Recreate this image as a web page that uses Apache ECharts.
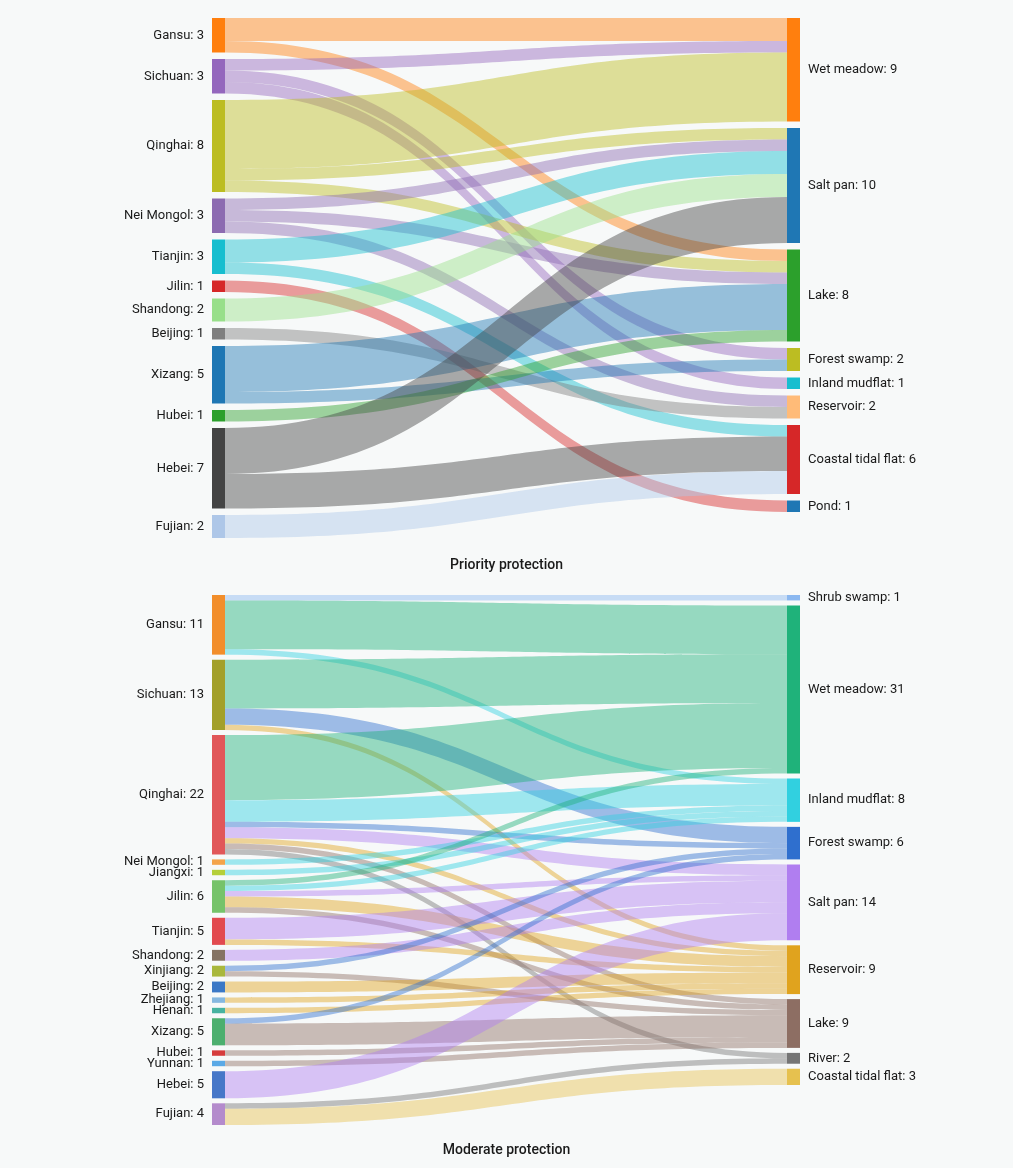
<!DOCTYPE html>
<html>
<head>
<meta charset="utf-8">
<script src="https://cdn.jsdelivr.net/npm/echarts@6/dist/echarts.min.js"></script>
<style>
  html, body { margin: 0; padding: 0; background: #f7f9f9; }
  #main { width: 1013px; height: 1168px; }
</style>
</head>
<body>
<div id="main"></div>
<script>
// priority protection
var priorityProvinces = ['Gansu', 'Sichuan', 'Qinghai', 'Nei Mongol', 'Tianjin', 'Jilin', 'Shandong', 'Beijing', 'Xizang', 'Hubei', 'Hebei', 'Fujian'];
var priorityProvinceCounts = [3, 3, 8, 3, 3, 1, 2, 1, 5, 1, 7, 2];
var priorityTypes = ['Wet meadow', 'Salt pan', 'Lake', 'Forest swamp', 'Inland mudflat', 'Reservoir', 'Coastal tidal flat', 'Pond'];
var priorityTypeCounts = [9, 10, 8, 2, 1, 2, 6, 1];
var priorityFlows = [
    ['Gansu', 'Wet meadow', 2], ['Gansu', 'Lake', 1],
    ['Sichuan', 'Wet meadow', 1], ['Sichuan', 'Forest swamp', 1], ['Sichuan', 'Inland mudflat', 1],
    ['Qinghai', 'Wet meadow', 6], ['Qinghai', 'Salt pan', 1], ['Qinghai', 'Lake', 1],
    ['Nei Mongol', 'Salt pan', 1], ['Nei Mongol', 'Lake', 1], ['Nei Mongol', 'Reservoir', 1],
    ['Tianjin', 'Salt pan', 2], ['Tianjin', 'Coastal tidal flat', 1],
    ['Jilin', 'Pond', 1],
    ['Shandong', 'Salt pan', 2],
    ['Beijing', 'Reservoir', 1],
    ['Xizang', 'Lake', 4], ['Xizang', 'Forest swamp', 1],
    ['Hubei', 'Lake', 1],
    ['Hebei', 'Salt pan', 4], ['Hebei', 'Coastal tidal flat', 3],
    ['Fujian', 'Coastal tidal flat', 2]
];

// moderate protection
var moderateProvinces = ['Gansu', 'Sichuan', 'Qinghai', 'Nei Mongol', 'Jiangxi', 'Jilin', 'Tianjin', 'Shandong', 'Xinjiang', 'Beijing', 'Zhejiang', 'Henan', 'Xizang', 'Hubei', 'Yunnan', 'Hebei', 'Fujian'];
var moderateProvinceCounts = [11, 13, 22, 1, 1, 6, 5, 2, 2, 2, 1, 1, 5, 1, 1, 5, 4];
var moderateTypes = ['Shrub swamp', 'Wet meadow', 'Inland mudflat', 'Forest swamp', 'Salt pan', 'Reservoir', 'Lake', 'River', 'Coastal tidal flat'];
var moderateTypeCounts = [1, 31, 8, 6, 14, 9, 9, 2, 3];
var moderateFlows = [
    ['Gansu', 'Shrub swamp', 1], ['Gansu', 'Wet meadow', 9], ['Gansu', 'Inland mudflat', 1],
    ['Sichuan', 'Wet meadow', 9], ['Sichuan', 'Forest swamp', 3], ['Sichuan', 'Reservoir', 1],
    ['Qinghai', 'Wet meadow', 12], ['Qinghai', 'Inland mudflat', 4], ['Qinghai', 'Forest swamp', 1],
    ['Qinghai', 'Salt pan', 2], ['Qinghai', 'Reservoir', 1], ['Qinghai', 'Lake', 1], ['Qinghai', 'River', 1],
    ['Nei Mongol', 'Inland mudflat', 1],
    ['Jiangxi', 'Inland mudflat', 1],
    ['Jilin', 'Wet meadow', 1], ['Jilin', 'Inland mudflat', 1], ['Jilin', 'Salt pan', 1], ['Jilin', 'Reservoir', 2], ['Jilin', 'Lake', 1],
    ['Tianjin', 'Salt pan', 4], ['Tianjin', 'Reservoir', 1],
    ['Shandong', 'Salt pan', 2],
    ['Xinjiang', 'Forest swamp', 1], ['Xinjiang', 'Lake', 1],
    ['Beijing', 'Reservoir', 2],
    ['Zhejiang', 'Reservoir', 1],
    ['Henan', 'Reservoir', 1],
    ['Xizang', 'Forest swamp', 1], ['Xizang', 'Lake', 4],
    ['Hubei', 'Lake', 1],
    ['Yunnan', 'Lake', 1],
    ['Hebei', 'Salt pan', 5],
    ['Fujian', 'River', 1], ['Fujian', 'Coastal tidal flat', 3]
];

// node colours
var priorityProvinceColors = ['#ff7f0e', '#9467bd', '#bcbd22', '#8c6bb1', '#17becf', '#d62728', '#98df8a', '#7f7f7f', '#1f77b4', '#2ca02c', '#444444', '#aec7e8'];
var priorityTypeColors = ['#ff7f0e', '#1f77b4', '#2ca02c', '#bcbd22', '#17becf', '#ffbb78', '#d62728', '#1f77b4'];
var moderateProvinceColors = ['#f28e2b', '#a3a02a', '#e15759', '#f4a44a', '#b5cf3a', '#76c36a', '#e24a4f', '#857363', '#a9b83c', '#3b78c6', '#86b8e0', '#47b3a0', '#4caf6e', '#d63c3c', '#5aa9e6', '#4677c8', '#b48bcc'];
var moderateTypeColors = ['#8bb8f0', '#1fb27a', '#31d0e0', '#2f6fce', '#b07ef0', '#e0a31e', '#8d6e63', '#757575', '#e6c14f'];

function buildNodes(lefts, leftVals, leftCols, rights, rightVals, rightCols) {
    var nodes = [];
    lefts.forEach(function (n, i) {
        nodes.push({ name: n, value: leftVals[i], itemStyle: { color: leftCols[i] }, label: { position: 'left' } });
    });
    rights.forEach(function (n, i) {
        nodes.push({ name: n, value: rightVals[i], itemStyle: { color: rightCols[i] }, label: { position: 'right' } });
    });
    return nodes;
}

function buildLinks(flows) {
    return flows.map(function (f) {
        return { source: f[0], target: f[1], value: f[2] };
    });
}

var labelStyle = {
    show: true,
    fontFamily: 'Roboto',
    fontSize: 13,
    color: '#1a1a1a',
    distance: 8,
    formatter: function (p) { return p.name + ': ' + p.value; }
};

var myChart = echarts.init(document.getElementById('main'), null, { renderer: 'canvas' });

var option = {
    backgroundColor: '#f7f9f9',
    animation: false,
    title: [
        {
            text: 'Priority protection',
            left: 'center',
            top: 553,
            textStyle: { fontFamily: 'Roboto', fontSize: 14, fontWeight: 500, color: '#1a1a1a' }
        },
        {
            text: 'Moderate protection',
            left: 'center',
            top: 1138,
            textStyle: { fontFamily: 'Roboto', fontSize: 14, fontWeight: 500, color: '#1a1a1a' }
        }
    ],
    series: [
        {
            type: 'sankey',
            left: 212,
            right: 213,
            top: 18,
            bottom: 630,
            nodeWidth: 13,
            nodeGap: 6.5,
            layoutIterations: 0,
            draggable: false,
            emphasis: { disabled: true },
            label: labelStyle,
            lineStyle: { color: 'source', opacity: 0.45, curveness: 0.5 },
            data: buildNodes(priorityProvinces, priorityProvinceCounts, priorityProvinceColors,
                priorityTypes, priorityTypeCounts, priorityTypeColors),
            links: buildLinks(priorityFlows)
        },
        {
            type: 'sankey',
            left: 212,
            right: 213,
            top: 595,
            bottom: 43,
            nodeWidth: 13,
            nodeGap: 5,
            layoutIterations: 0,
            draggable: false,
            emphasis: { disabled: true },
            label: labelStyle,
            lineStyle: { color: 'target', opacity: 0.45, curveness: 0.5 },
            data: buildNodes(moderateProvinces, moderateProvinceCounts, moderateProvinceColors,
                moderateTypes, moderateTypeCounts, moderateTypeColors),
            links: buildLinks(moderateFlows)
        }
    ]
};

myChart.setOption(option);
</script>
</body>
</html>
